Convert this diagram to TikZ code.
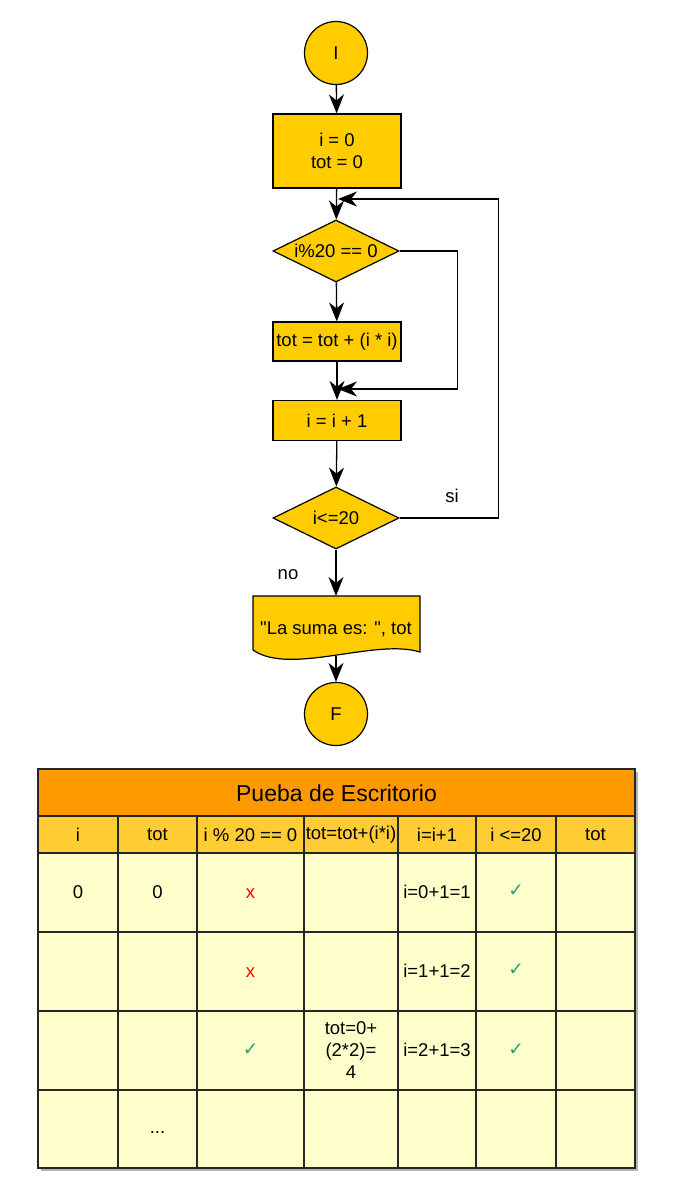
\documentclass[tikz,border=0pt]{standalone}
\usepackage{fontspec}
\setmainfont{Liberation Sans}
\newfontfamily\plainfont{Liberation Sans}
\newfontfamily\symfont{DejaVu Sans}
\usetikzlibrary{
	shapes.geometric,
	arrows.meta
}

\definecolor{flowfill}{HTML}{FFCC00}
\definecolor{titlefill}{HTML}{FF9900}
\definecolor{headfill}{HTML}{FFCC33}
\definecolor{cellfill}{HTML}{FFFFCC}
\definecolor{okgreen}{HTML}{2E9E73}

\tikzset{
	base/.style={draw=black, fill=flowfill, line width=1.2pt, font=\fontsize{18.5}{22}\selectfont, inner sep=0pt},
	terminal/.style={base, circle, minimum size=63pt},
	process/.style={base, rectangle, minimum width=128pt, align=center},
	decision/.style={base, diamond, aspect=2, minimum width=126pt, minimum height=62pt},
	flowline/.style={line width=1.3pt, -{Stealth[length=19pt, width=15pt, inset=6pt]}},
	tabtext/.style={font=\fontsize{18.5}{22}\selectfont, align=center, inner sep=0pt},
	gridline/.style={line width=1.2pt, draw=black!85}
}

\begin{document}
\begin{tikzpicture}[x=1pt, y=-1pt]
\useasboundingbox (0,0) rectangle (697,1194);

% Flowchart
\node[terminal] (ini) at (336,53) {I};
\node[process, minimum height=74pt] (init) at (337,151) {i = 0\\tot = 0};
\node[decision] (cond1) at (336,251) {i\%20 == 0};
\node[process, minimum height=39pt] (acc) at (337,341.5) {tot = tot + (i * i)};
\node[process, minimum height=40pt] (inc) at (337,420.5) {i = i + 1};
\node[decision] (cond2) at (336,518) {i<=20};

% Output (document shape)
\filldraw[base] (253,596) -- (420,596) -- (420,652)
	.. controls (375,638) and (290,676) .. (253,650) -- cycle;
\node[tabtext] (outtxt) at (336,629) {\plainfont "La suma es: ", tot};
\coordinate (outtop) at (336,596);
\coordinate (outbot) at (336,656);

\node[terminal] (fin) at (336,714) {F};

% Branch labels
\node[tabtext] (lblsi) at (452,496) {si};
\node[tabtext] (lblno) at (288,575) {no};

% Main flow
\draw[flowline] (ini) -- (init);
\draw[flowline] (init) -- (cond1);
\draw[flowline] (cond1) -- (acc);
\draw[flowline] (acc) -- (inc);
\draw[flowline] (inc) -- (cond2);
\draw[flowline] (cond2) -- (outtop);
\draw[flowline] (outbot) -- (fin);

% Loops
\coordinate (j1) at (338,199);
\coordinate (j2) at (338,389);
\draw[flowline] (cond1.east) -- ++(58,0) |- (j2);
\draw[flowline] (cond2.east) -- ++(99,0) |- (j1);

% Table: shadow and fills
\fill[black!30] (41,772) rectangle (638,1171);
\fill[titlefill] (38,769) rectangle (635,816);
\fill[headfill] (38,816) rectangle (635,853);
\fill[cellfill] (38,853) rectangle (635,1168);

% Grid lines
\foreach \x in {118,197,304,398,476,556}
	\draw[gridline] (\x,816) -- (\x,1168);
\foreach \y in {816,853,932,1090}
	\draw[gridline] (38,\y) -- (635,\y);
\draw[gridline, line width=2.4pt] (38,1011) -- (635,1011);
\draw[gridline] (38,769) rectangle (635,1168);

% Title
\node[tabtext, font=\fontsize{23}{26}\selectfont] (title) at (336.5,793) {Pueba de Escritorio};

% Header
\foreach \cx/\txt [count=\k] in {78/i, 157.5/tot, 250.5/{i \% 20 == 0}, 351/{tot=tot+(i*i)}, 437/{i=i+1}, 516/{i <=20}, 595.5/tot}
	\node[tabtext] (head\k) at (\cx,835) {\txt};

% Rows
\node[tabtext] (r1c1) at (78,892) {0};
\node[tabtext] (r1c2) at (157.5,892) {0};
\node[tabtext, text=red] (r1c3) at (250.5,894) {x};
\node[tabtext] (r1c5) at (437,892) {i=0+1=1};
\node[tabtext, text=okgreen] (r1c6) at (516,891) {\symfont ✓};

\node[tabtext, text=red] (r2c3) at (250.5,973) {x};
\node[tabtext] (r2c5) at (437,971) {i=1+1=2};
\node[tabtext, text=okgreen] (r2c6) at (516,970) {\symfont ✓};

\node[tabtext, text=okgreen] (r3c3) at (250.5,1050) {\symfont ✓};
\node[tabtext] (r3c4) at (351,1050) {tot=0+\\(2*2)=\\4};
\node[tabtext] (r3c5) at (437,1050) {i=2+1=3};
\node[tabtext, text=okgreen] (r3c6) at (516,1050) {\symfont ✓};

\node[tabtext] (r4c2) at (157.5,1132) {...};

\end{tikzpicture}
\end{document}
